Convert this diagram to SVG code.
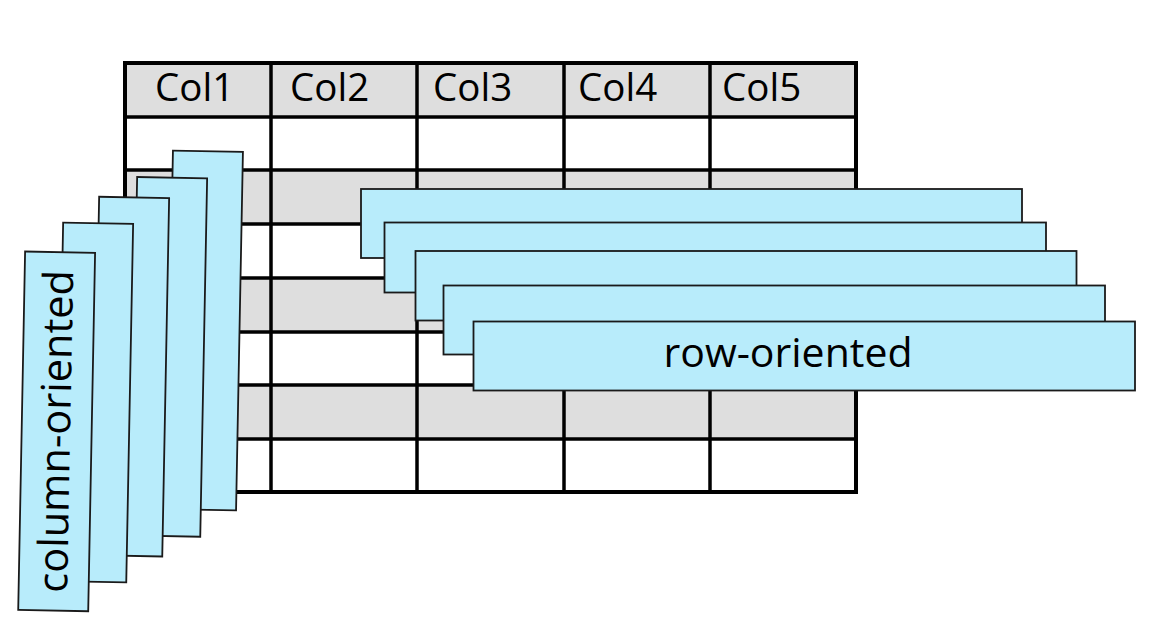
<svg xmlns="http://www.w3.org/2000/svg" width="1158" height="644" viewBox="0 0 1158 644">
  <style>
    .bg { fill: #ffffff; }
    .hdr { fill: #dedede; }
    .grid { stroke: #000; stroke-width: 3.5; fill: none; }
    .outer { stroke: #000; stroke-width: 4; fill: none; }
    .strip { fill: #b8ecfb; stroke: #1a1a1a; stroke-width: 1.8; }
    .lbl { font-family: "Open Sans", "Noto Sans", sans-serif; fill: #000; }
  </style>
  <rect class="bg" x="0" y="0" width="1158" height="644"/>
  <g id="table">
    <rect class="hdr" x="125" y="63" width="731" height="54"/>
    <rect class="hdr" x="125" y="170" width="731" height="54"/>
    <rect class="hdr" x="125" y="278" width="731" height="54"/>
    <rect class="hdr" x="125" y="385" width="731" height="54"/>
    <g class="grid">
      <line x1="125" y1="117" x2="856" y2="117"/>
      <line x1="125" y1="170" x2="856" y2="170"/>
      <line x1="125" y1="224" x2="856" y2="224"/>
      <line x1="125" y1="278" x2="856" y2="278"/>
      <line x1="125" y1="332" x2="856" y2="332"/>
      <line x1="125" y1="385" x2="856" y2="385"/>
      <line x1="125" y1="439" x2="856" y2="439"/>
      <line x1="271" y1="63" x2="271" y2="492"/>
      <line x1="417" y1="63" x2="417" y2="492"/>
      <line x1="564" y1="63" x2="564" y2="492"/>
      <line x1="710" y1="63" x2="710" y2="492"/>
    </g>
    <rect class="outer" x="125" y="63" width="731" height="429"/>
    <g class="lbl" font-size="38.5">
      <text x="155" y="101">Col1</text>
      <text x="290" y="101">Col2</text>
      <text x="433" y="101">Col3</text>
      <text x="578" y="101">Col4</text>
      <text x="722" y="101">Col5</text>
    </g>
  </g>
  <g id="column-strips">
    <g id="col5" transform="rotate(1.1 204.5 330.5)"><rect class="strip" x="169.5" y="151.25" width="70" height="358.5"/></g>
    <g id="col4" transform="rotate(1.1 168.7 356.85)"><rect class="strip" x="133.7" y="177.6" width="70" height="358.5"/></g>
    <g id="col3" transform="rotate(1.1 130.7 376.65)"><rect class="strip" x="95.7" y="197.4" width="70" height="358.5"/></g>
    <g id="col2" transform="rotate(1.1 94.7 402.5)"><rect class="strip" x="59.7" y="223.25" width="70" height="358.5"/></g>
    <g id="col1" transform="rotate(1.1 56.65 431.35)">
      <rect class="strip" x="21.65" y="252.1" width="70" height="358.5"/>
      <text class="lbl" font-size="41.5" text-anchor="middle" transform="translate(56.65 431.35) rotate(-90)" x="0" y="13.5">column-oriented</text>
    </g>
  </g>
  <g id="row-strips">
    <rect id="row1" class="strip" x="361" y="189" width="661" height="69"/>
    <rect id="row2" class="strip" x="384.5" y="222.5" width="661.5" height="70"/>
    <rect id="row3" class="strip" x="415.5" y="251" width="661" height="69.5"/>
    <rect id="row4" class="strip" x="443.5" y="285.5" width="661.5" height="69"/>
    <g id="row5">
      <rect class="strip" x="473.5" y="321.5" width="661.5" height="69"/>
      <text class="lbl" font-size="41" text-anchor="middle" x="788" y="367">row-oriented</text>
    </g>
  </g>
</svg>
